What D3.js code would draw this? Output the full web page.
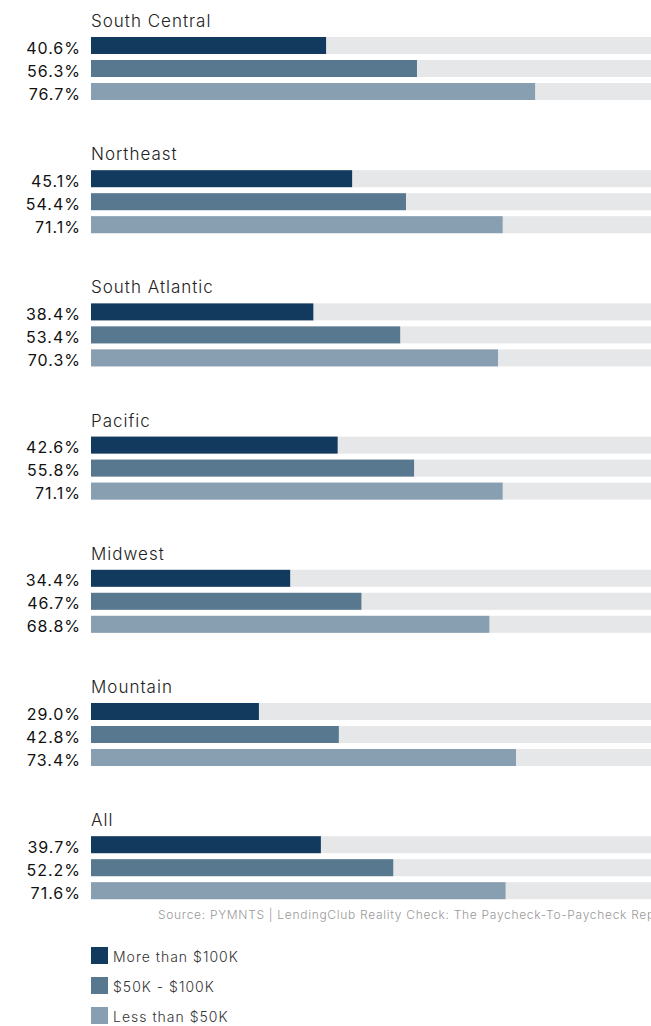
<!DOCTYPE html>
<html>
<head>
<meta charset="utf-8">
<script src="https://cdn.jsdelivr.net/npm/d3@7"></script>
<style>
  body { margin: 0; background: #fff; overflow: hidden; }
  svg { display: block; font-family: Inter, "Noto Sans", sans-serif; }
</style>
</head>
<body>
<svg id="chart" width="651" height="1026"></svg>
<script>
// data
const regions = ["South Central", "Northeast", "South Atlantic", "Pacific", "Midwest", "Mountain", "All"];
const series = ["More than $100K", "$50K - $100K", "Less than $50K"];
const over100k = [40.6, 45.1, 38.4, 42.6, 34.4, 29.0, 39.7];
const from50to100k = [56.3, 54.4, 53.4, 55.8, 46.7, 42.8, 52.2];
const under50k = [76.7, 71.1, 70.3, 71.1, 68.8, 73.4, 71.6];
const source = "Source: PYMNTS | LendingClub Reality Check: The Paycheck-To-Paycheck Report";

const colors = ["#123a5e", "#57788f", "#889eb1"];
const trackColor = "#e6e7e9";

const svg = d3.select("#chart");

const x = d3.scaleLinear().domain([0, 100]).range([91, 670]);
const gy = d3.scaleBand().domain(regions).range([0, 133.2 * regions.length]);
// three bars 17px tall, 23px apart
const by = d3.scaleBand().domain(series).range([37, 37 + 23 * 2 + 17]).paddingInner(6 / 23);

const rows = regions.map((r, i) => ({
    region: r,
    values: [over100k[i], from50to100k[i], under50k[i]]
}));

const groups = svg.selectAll("g.group")
    .data(rows)
    .enter().append("g")
    .attr("class", "group")
    .attr("transform", d => `translate(0,${gy(d.region)})`);

groups.append("text")
    .attr("x", 91)
    .attr("y", 27)
    .attr("font-size", 17)
    .attr("font-weight", 300)
    .attr("letter-spacing", 1)
    .attr("fill", "#222")
    .text(d => d.region);

const bars = groups.selectAll("g.bar")
    .data(d => d.values.map((v, j) => ({ key: series[j], v: v, j: j })))
    .enter().append("g")
    .attr("class", "bar");

bars.append("rect")
    .attr("x", x(0))
    .attr("y", d => by(d.key))
    .attr("width", x(100) - x(0))
    .attr("height", by.bandwidth())
    .attr("fill", trackColor);

bars.append("rect")
    .attr("x", x(0))
    .attr("y", d => by(d.key))
    .attr("width", d => x(d.v) - x(0))
    .attr("height", by.bandwidth())
    .attr("fill", d => colors[d.j]);

bars.append("text")
    .attr("x", 81)
    .attr("y", d => by(d.key) + by.bandwidth() - 0.5)
    .attr("text-anchor", "end")
    .attr("font-size", 16)
    .attr("letter-spacing", 1)
    .attr("fill", "#111")
    .text(d => d.v.toFixed(1) + "%");

svg.append("text")
    .attr("x", 158)
    .attr("y", 919)
    .attr("font-size", 12)
    .attr("font-weight", 300)
    .attr("letter-spacing", 0.7)
    .attr("fill", "#999")
    .text(source);

const legend = svg.selectAll("g.legend")
    .data(series)
    .enter().append("g")
    .attr("class", "legend")
    .attr("transform", (d, i) => `translate(91,${947 + i * 30})`);

legend.append("rect")
    .attr("width", 17)
    .attr("height", 17)
    .attr("fill", (d, i) => colors[i]);

legend.append("text")
    .attr("x", 22)
    .attr("y", 15)
    .attr("font-size", 14)
    .attr("font-weight", 300)
    .attr("letter-spacing", 1)
    .attr("fill", "#333")
    .text(d => d);
</script>
</body>
</html>
